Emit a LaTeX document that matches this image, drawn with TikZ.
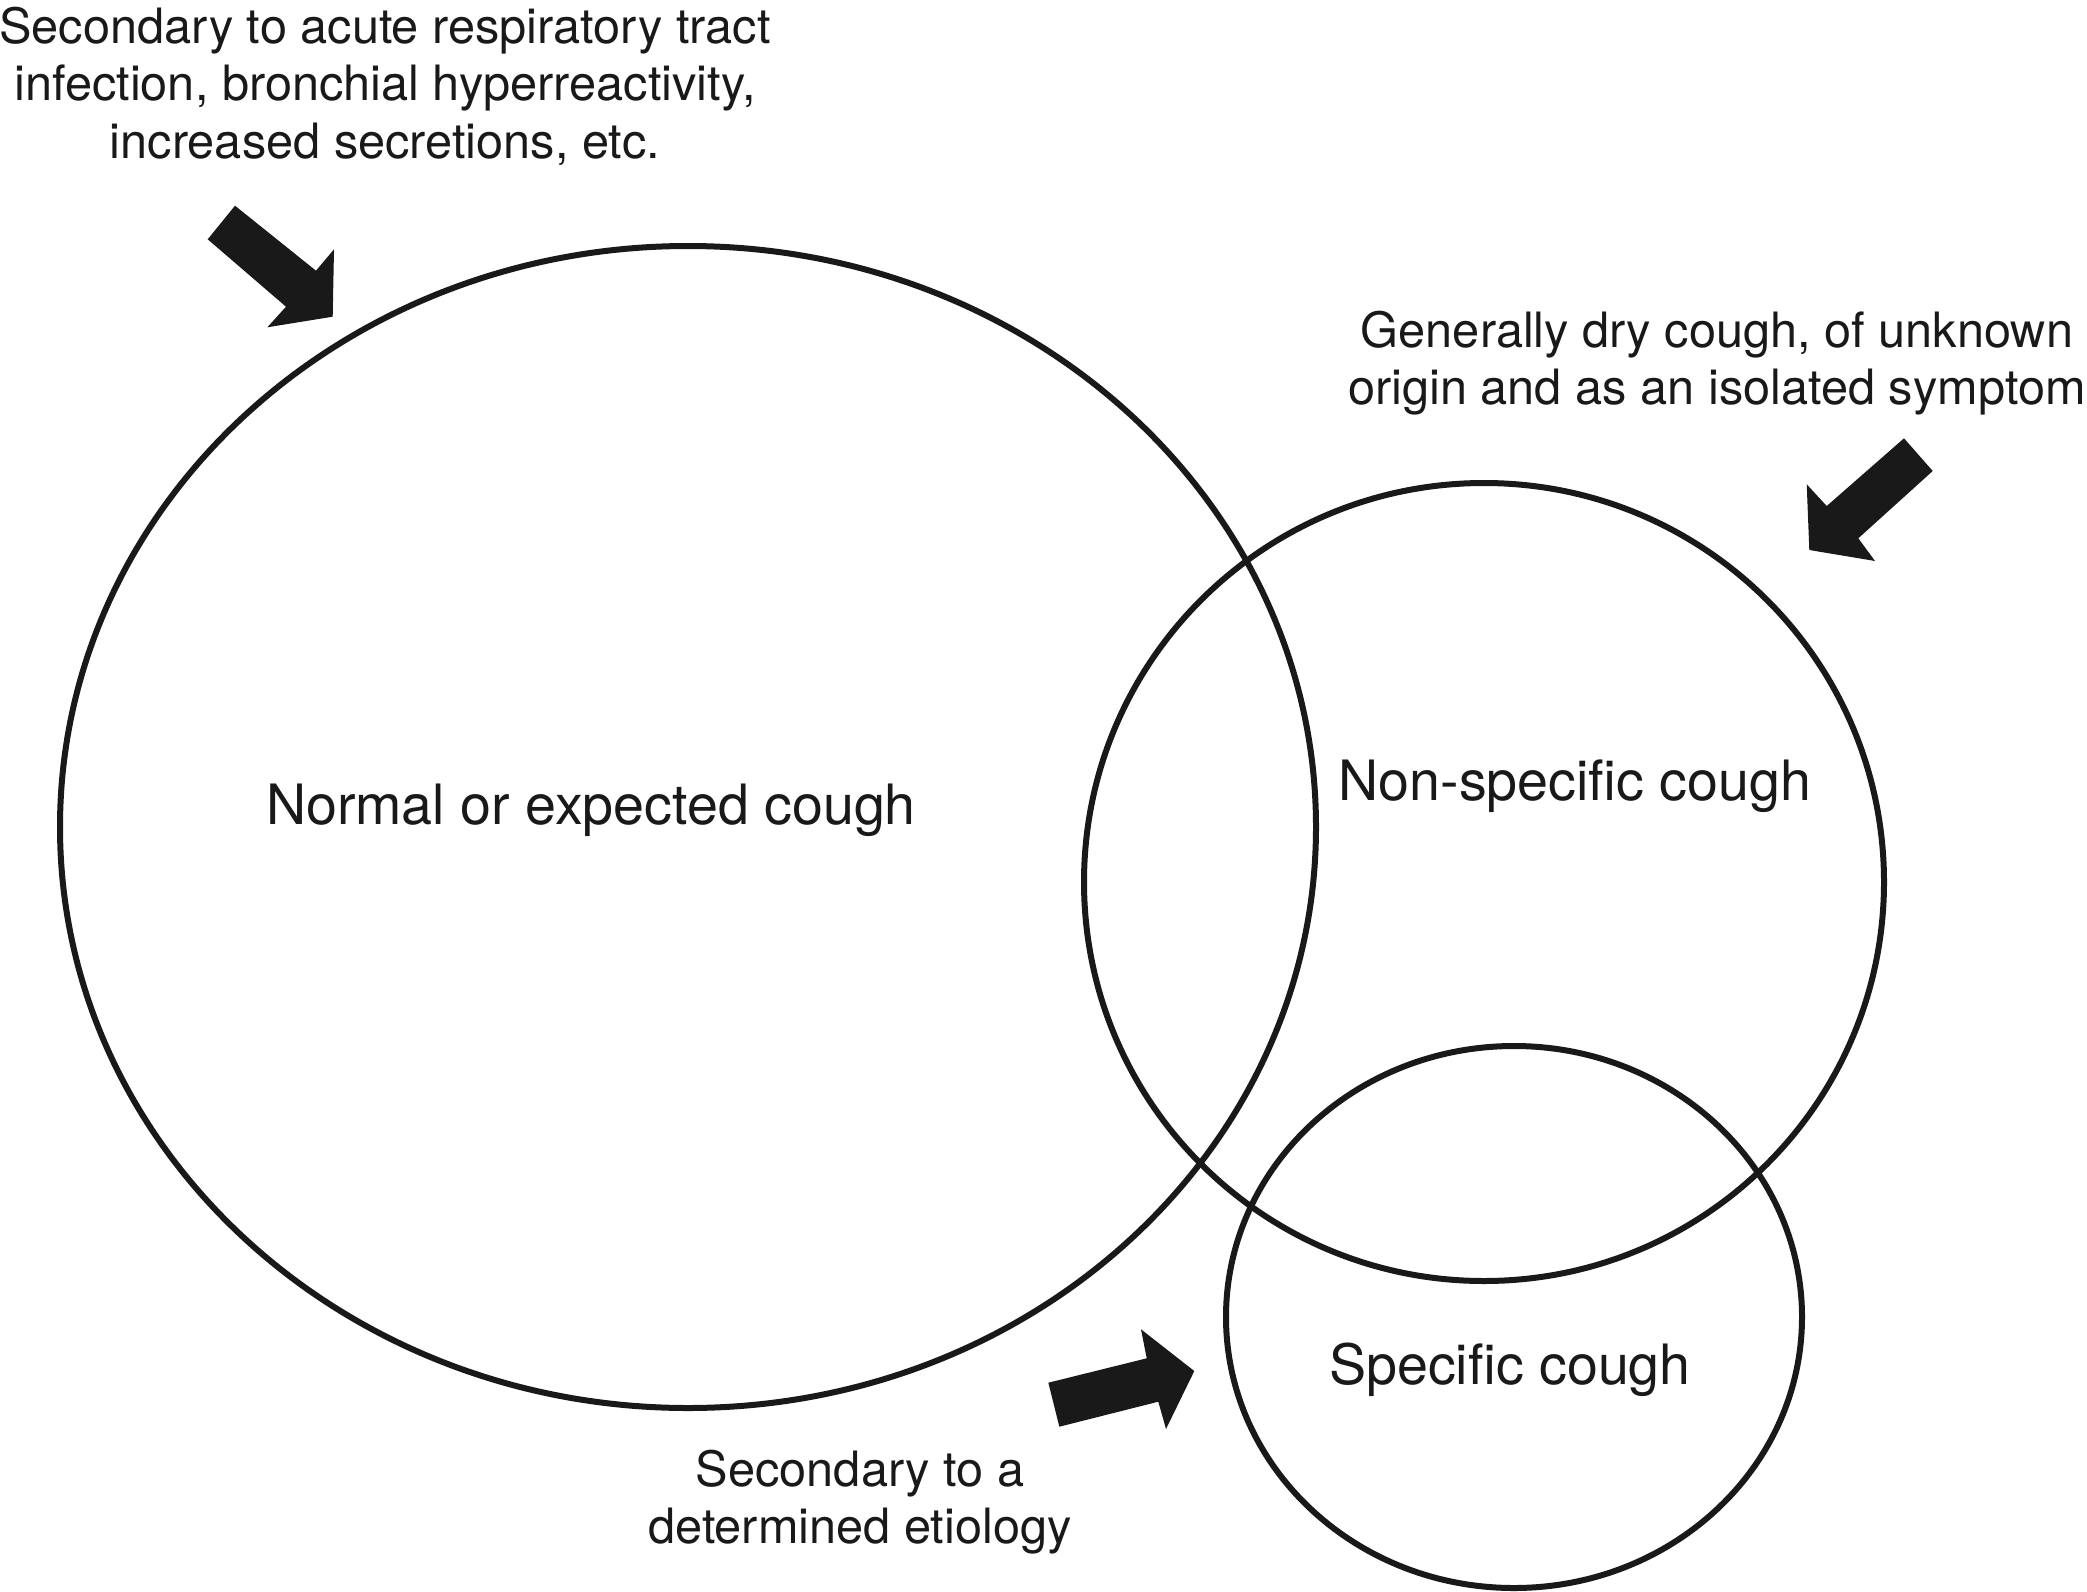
\documentclass[tikz,border=0pt]{standalone}
\usepackage{fontspec}
\setmainfont{TeX Gyre Heros}
\usetikzlibrary{shapes.geometric}
\tikzset{
  setcircle/.style={draw=black!90, line width=6pt, ellipse, inner sep=0pt, outer sep=0pt},
  biglabel/.style={font=\fontsize{55.6}{66}\selectfont, text=black!90, inner sep=0pt},
  note/.style={font=\fontsize{48.7}{57.5}\selectfont, text=black!90, align=center, inner sep=0pt},
  fatarrow/.style={fill=black!90, draw=none}
}
\begin{document}
\begin{tikzpicture}[x=1pt,y=-1pt]
\useasboundingbox (0,0) rectangle (2087,1592);
% sets
\node[setcircle, minimum width=1256pt, minimum height=1162pt] (normal) at (688,827) {};
\node[setcircle, minimum width=800pt, minimum height=798pt] (nonspec) at (1484,882) {};
\node[setcircle, minimum width=576pt, minimum height=542pt] (spec) at (1514,1317) {};
% labels
\node[biglabel] (normallbl) at (591,810) {Normal or expected cough};
\node[biglabel] (nonspeclbl) at (1575,786) {Non-specific cough};
\node[biglabel] (speclbl) at (1510,1370) {Specific cough};
% notes
\node[note] (topnote) at (385,86) {Secondary to acute respiratory tract\\infection, bronchial hyperreactivity,\\increased secretions, etc.};
\node[note] (rightnote) at (1717,363) {Generally dry cough, of unknown\\origin and as an isolated symptom};
\node[note] (botnote) at (860,1502) {Secondary to a\\determined etiology};
% arrows
\fill[fatarrow] (235,205.7) -- (316,270.7) -- (334,249.3) -- (332.7,316.7) -- (267.3,327.3) -- (286,306.7) -- (207.7,239.3) -- cycle;
\fill[fatarrow] (1904,438.3) -- (1932.7,471) -- (1858.3,538.3) -- (1875,561) -- (1809.3,550) -- (1806.7,484.3) -- (1826.7,506) -- cycle;
\fill[fatarrow] (1048.3,1382.7) -- (1146.7,1358.3) -- (1141,1329.3) -- (1194.3,1371) -- (1166,1429) -- (1158.3,1401.7) -- (1059.3,1426.7) -- cycle;
\end{tikzpicture}
\end{document}
